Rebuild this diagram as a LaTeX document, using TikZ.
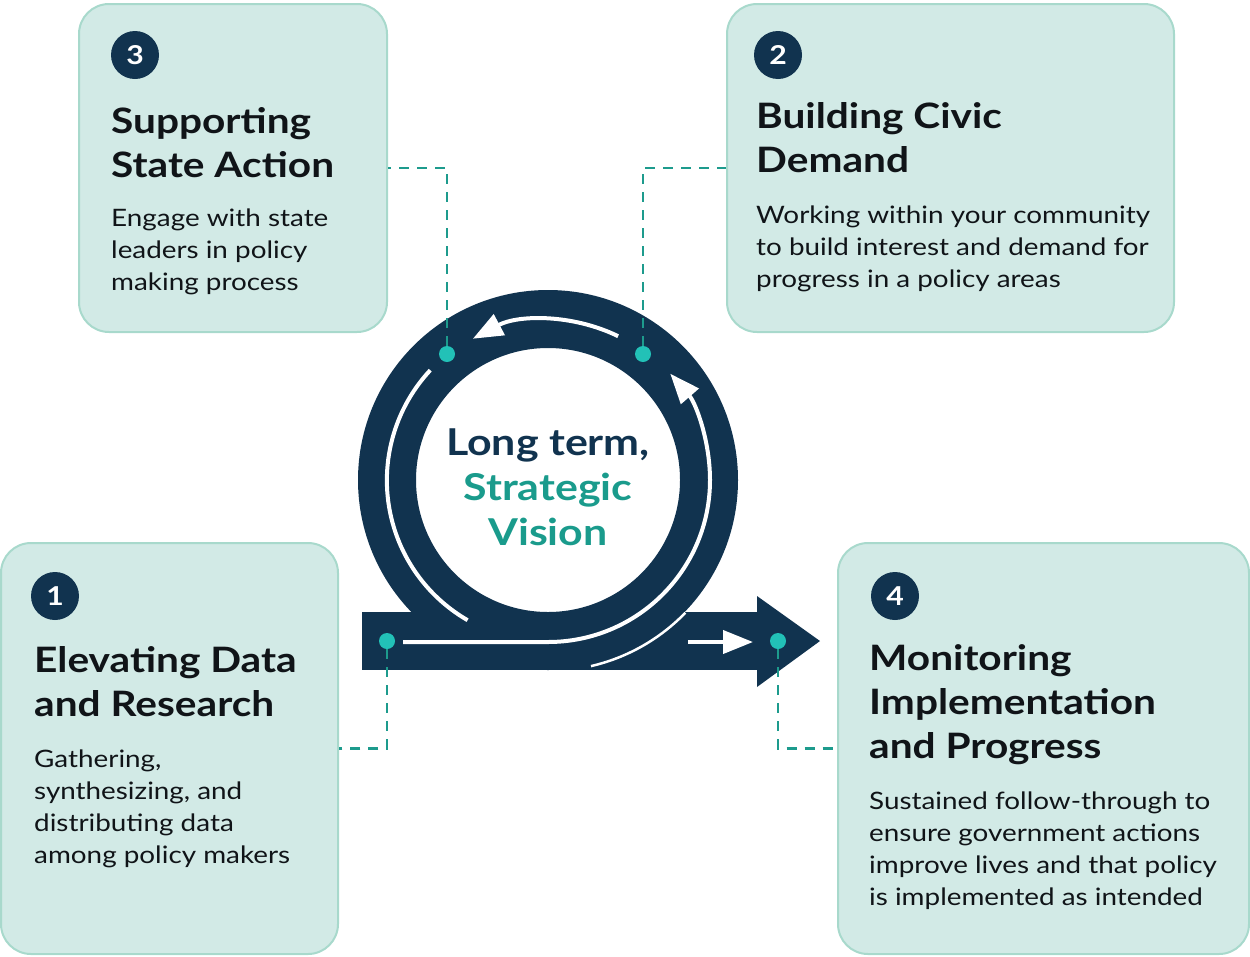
\documentclass[tikz,border=0pt]{standalone}
\usepackage{fontspec}
\setmainfont{Lato}[FakeStretch=1.16]
\usetikzlibrary{arrows.meta}
\definecolor{navy}{HTML}{11334F}
\definecolor{boxfill}{HTML}{D2EAE6}
\definecolor{boxline}{HTML}{A8D9CC}
\definecolor{dotteal}{HTML}{22C1B7}
\definecolor{dashteal}{HTML}{1D9B8D}
\definecolor{visteal}{HTML}{1A9B8C}
\definecolor{ink}{HTML}{101418}
\tikzset{
  box/.style={draw=boxline, line width=2pt, fill=boxfill, rounded corners=30pt, inner sep=0pt},
  num/.style={circle, fill=navy, text=white, minimum size=48pt, inner sep=0pt, font=\fontsize{26}{26}\selectfont\bfseries},
  head/.style={anchor=base west, inner sep=0pt, text=ink, font=\fontsize{35}{35}\selectfont\bfseries},
  body/.style={anchor=base west, inner sep=0pt, text=ink, font=\fontsize{24}{24}\selectfont},
  ctext/.style={anchor=base, inner sep=0pt, font=\fontsize{37}{37}\selectfont\bfseries},
  dot/.style={circle, fill=dotteal, minimum size=16pt, inner sep=0pt},
  dashline/.style={draw=dashteal, line width=2.4pt, dash pattern=on 10pt off 8pt},
  track/.style={draw=white, line width=4pt},
  tip/.style={-{Triangle[length=30pt,width=23pt]}}
}
\begin{document}
\begin{tikzpicture}[x=1pt,y=1pt]
\useasboundingbox (0,0) rectangle (1250,-956);
% boxes
\node[box, minimum width=308pt, minimum height=328pt] (b3) at (233,-168) {};
\node[box, minimum width=447pt, minimum height=328pt] (b2) at (950.5,-168) {};
\node[box, minimum width=337pt, minimum height=411pt] (b1) at (169.5,-748.5) {};
\node[box, minimum width=411pt, minimum height=411pt] (b4) at (1043.5,-748.5) {};
% numbers
\node[num] (n3) at (135,-55) {3};
\node[num] (n2) at (778,-55) {2};
\node[num] (n1) at (55,-596) {1};
\node[num] (n4) at (895,-596) {4};
% box 3 text
\node[head] (h3a) at (111,-133) {Supporting};
\node[head] (h3b) at (111,-177) {State Action};
\node[body] (t3a) at (111,-226) {Engage with state};
\node[body] (t3b) at (111,-258) {leaders in policy};
\node[body] (t3c) at (111,-290) {making process};
% box 2 text
\node[head] (h2a) at (756,-128) {Building Civic};
\node[head] (h2b) at (756,-172) {Demand};
\node[body] (t2a) at (756,-223) {Working within your community};
\node[body] (t2b) at (756,-255) {to build interest and demand for};
\node[body] (t2c) at (756,-287) {progress in a policy areas};
% box 1 text
\node[head] (h1a) at (34,-672) {Elevating Data};
\node[head] (h1b) at (34,-716) {and Research};
\node[body] (t1a) at (34,-767) {Gathering,};
\node[body] (t1b) at (34,-799) {synthesizing, and};
\node[body] (t1c) at (34,-831) {distributing data};
\node[body] (t1d) at (34,-863) {among policy makers};
% box 4 text
\node[head] (h4a) at (869,-670) {Monitoring};
\node[head] (h4b) at (869,-714) {Implementation};
\node[head] (h4c) at (869,-758) {and Progress};
\node[body] (t4a) at (869,-809) {Sustained follow-through to};
\node[body] (t4b) at (869,-841) {ensure government actions};
\node[body] (t4c) at (869,-873) {improve lives and that policy};
\node[body] (t4d) at (869,-905) {is implemented as intended};
% loop shape
\fill[navy, even odd rule] (548,-480) circle[radius=190] (548,-480) circle[radius=132];
\fill[navy] (362,-612) rectangle (758,-670);
\fill[navy] (757,-596) -- (820,-641) -- (757,-687) -- cycle;
\draw[white, line width=2.5pt] ([shift={(-44:191)}]548,-480) arc[start angle=-44, end angle=-77, radius=191];
% tracks
\draw[track, tip] (403,-642) -- (548,-642) arc[start angle=-90, end angle=41, radius=162];
\draw[track, tip] ([shift={(64:160)}]548,-480) arc[start angle=64, end angle=118, radius=160];
\draw[track] ([shift={(137:161)}]548,-480) arc[start angle=137, end angle=240, radius=161.5];
\draw[track, tip] (688,-642) -- (753,-642);
% centre text
\node[ctext, text=navy] (c1) at (548,-455) {Long term,};
\node[ctext, text=visteal] (c2) at (548,-500) {Strategic};
\node[ctext, text=visteal] (c3) at (548,-545) {Vision};
% dots
\node[dot] (d3) at (447,-354) {};
\node[dot] (d2) at (643,-354) {};
\node[dot] (d1) at (387,-641) {};
\node[dot] (d4) at (778,-641) {};
% connectors
\draw[dashline] (d3) |- (b3.east);
\draw[dashline] (d2) |- (b2.west);
\draw[dashline] (d1) |- (b1.east);
\draw[dashline] (d4) |- (b4.west);
\end{tikzpicture}
\end{document}
